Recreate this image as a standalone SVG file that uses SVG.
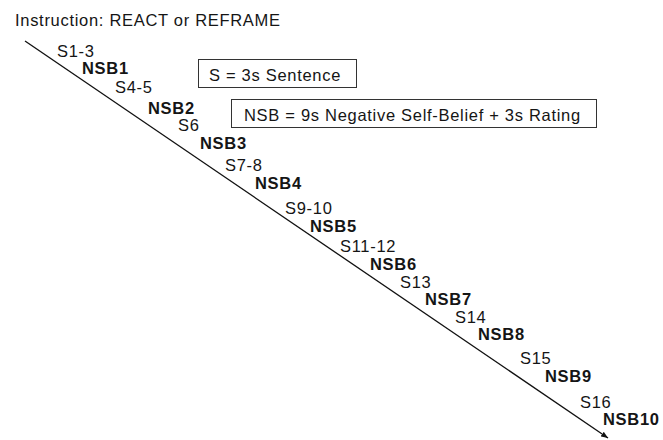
<svg xmlns="http://www.w3.org/2000/svg" width="663" height="440" viewBox="0 0 663 440">
<defs>
<marker id="arr" viewBox="0 0 10 10" refX="10" refY="5" markerWidth="7" markerHeight="7" markerUnits="userSpaceOnUse" orient="auto">
<path d="M0,1 L10,5 L0,9 z" fill="#111"/>
</marker>
<style>
text{font-family:"Liberation Sans",Arial,sans-serif;font-size:16.5px;letter-spacing:0.7px;fill:#151515}
.b{font-weight:bold}
.box{fill:#fff;stroke:#333;stroke-width:1}
.conn{stroke:#111;stroke-width:1.3;fill:none}
</style>
</defs>
<rect width="663" height="440" fill="#fff"/>
<g id="title"><text x="15" y="26">Instruction: REACT or REFRAME</text></g>
<g id="connectors"><line class="conn" x1="25" y1="41" x2="608" y2="438" marker-end="url(#arr)"/></g>
<g id="legend-s"><rect class="box" x="198.5" y="59.5" width="158" height="28"/><text x="209" y="81">S = 3s Sentence</text></g>
<g id="legend-nsb"><rect class="box" x="231.5" y="99.5" width="365" height="28"/><text x="244" y="121">NSB = 9s Negative Self-Belief + 3s Rating</text></g>
<g id="s1"><text x="57" y="57">S1-3</text></g>
<g id="nsb1"><text class="b" x="82" y="74">NSB1</text></g>
<g id="s4"><text x="115" y="93">S4-5</text></g>
<g id="nsb2"><text class="b" x="148" y="114">NSB2</text></g>
<g id="s6"><text x="178" y="131">S6</text></g>
<g id="nsb3"><text class="b" x="200" y="149">NSB3</text></g>
<g id="s7"><text x="225" y="171">S7-8</text></g>
<g id="nsb4"><text class="b" x="255" y="189">NSB4</text></g>
<g id="s9"><text x="285" y="214">S9-10</text></g>
<g id="nsb5"><text class="b" x="310" y="232">NSB5</text></g>
<g id="s11"><text x="340" y="252">S11-12</text></g>
<g id="nsb6"><text class="b" x="370" y="270">NSB6</text></g>
<g id="s13"><text x="400" y="288">S13</text></g>
<g id="nsb7"><text class="b" x="425" y="305">NSB7</text></g>
<g id="s14"><text x="455" y="323">S14</text></g>
<g id="nsb8"><text class="b" x="478" y="340">NSB8</text></g>
<g id="s15"><text x="520" y="364">S15</text></g>
<g id="nsb9"><text class="b" x="545" y="382">NSB9</text></g>
<g id="s16"><text x="580" y="408">S16</text></g>
<g id="nsb10"><text class="b" x="603" y="425">NSB10</text></g>
</svg>
